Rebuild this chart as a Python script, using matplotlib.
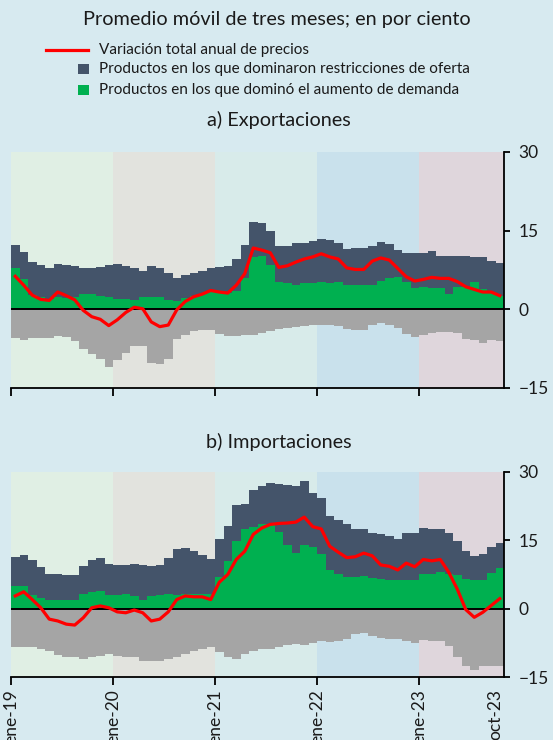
import numpy as np
import matplotlib.pyplot as plt
from matplotlib.lines import Line2D
from matplotlib.patches import Rectangle

plt.rcParams['font.family'] = ['Lato', 'DejaVu Sans']

# meses ene-19 ... oct-23 (58 observaciones)
meses_abr = ['ene', 'feb', 'mar', 'abr', 'may', 'jun', 'jul', 'ago', 'sep', 'oct', 'nov', 'dic']
meses = [m + '-' + str(a) for a in range(19, 24) for m in meses_abr][:58]

tick_pos = [0, 12, 24, 36, 48, 57]
tick_lab = ['ene-19', 'ene-20', 'ene-21', 'ene-22', 'ene-23', 'oct-23']

# a) Exportaciones
exp_demanda = [7.8, 5.8, 2.7, 2.3, 2.0, 2.3, 2.2, 2.3, 2.9, 2.9, 2.6, 2.3, 2.0, 1.9, 1.8, 2.3, 2.3, 2.3, 1.7, 1.5,
               2.1, 2.5, 2.9, 3.5, 3.1, 3.1, 3.5, 5.9, 9.9, 10.1, 8.4, 5.3, 5.1, 4.6, 5.0, 5.0, 5.3, 5.1, 5.2,
               4.6, 4.6, 4.6, 4.6, 5.4, 5.9, 6.2, 5.3, 4.0, 4.3, 4.1, 4.0, 2.9, 4.3, 4.3, 5.3, 3.9, 3.4, 2.6]
exp_oferta = [4.4, 5.2, 6.3, 6.1, 5.9, 6.4, 6.2, 5.9, 5.0, 5.0, 5.5, 6.1, 6.7, 6.4, 6.0, 5.1, 6.0, 5.5, 5.3, 4.5,
              4.5, 4.4, 4.4, 4.3, 5.0, 5.1, 6.1, 6.3, 6.8, 6.3, 6.6, 6.7, 6.9, 8.1, 7.7, 8.0, 8.1, 8.1, 7.5,
              6.9, 7.1, 7.1, 7.5, 7.4, 6.5, 5.2, 5.5, 6.8, 6.5, 7.0, 6.2, 7.3, 5.9, 5.9, 4.6, 6.0, 5.9, 6.3]
exp_negativo = [-5.5, -5.8, -5.5, -5.4, -5.4, -5.0, -5.3, -6.1, -7.5, -8.5, -9.4, -11.0, -9.7, -8.3, -6.9, -6.9,
                -10.2, -10.5, -9.5, -5.7, -4.8, -4.2, -4.0, -4.0, -4.7, -5.0, -5.0, -4.9, -4.8, -4.5, -4.2,
                -3.8, -3.5, -3.3, -3.1, -3.0, -3.0, -3.0, -3.1, -3.7, -4.0, -4.0, -3.0, -2.6, -3.0, -3.6,
                -4.7, -5.2, -4.8, -4.5, -4.3, -4.3, -4.6, -5.6, -5.9, -6.4, -5.9, -6.1]
exp_total = [6.3, 4.6, 2.7, 1.9, 1.7, 3.3, 2.6, 1.8, -0.2, -1.4, -1.9, -3.1, -2.0, -0.6, 0.4, 0.1, -2.4, -3.3,
             -3.0, -0.1, 1.5, 2.4, 2.9, 3.6, 3.3, 3.1, 4.6, 6.8, 11.7, 11.3, 10.8, 8.0, 8.3, 9.0, 9.6, 10.0,
             10.6, 10.0, 9.6, 7.9, 7.6, 7.6, 9.2, 9.8, 9.4, 7.8, 6.2, 5.4, 5.7, 6.1, 5.9, 5.9, 5.3, 4.3, 3.8,
             3.3, 3.3, 2.6]

# b) Importaciones
imp_demanda = [5.0, 5.0, 3.1, 2.4, 1.8, 1.8, 1.8, 1.8, 3.3, 3.6, 3.9, 3.0, 3.0, 3.2, 2.8, 1.9, 2.8, 3.1, 3.3, 3.0,
               3.2, 3.3, 3.3, 3.3, 7.0, 10.4, 14.8, 17.4, 18.0, 18.6, 18.6, 16.8, 14.0, 12.2, 14.0, 13.5, 12.1,
               8.4, 7.7, 7.0, 7.0, 7.2, 6.7, 6.5, 6.4, 6.4, 6.4, 6.4, 7.7, 7.7, 8.1, 7.6, 7.3, 6.6, 6.3, 6.3,
               7.8, 8.9]
imp_oferta = [6.4, 6.8, 7.5, 6.8, 5.9, 5.9, 5.7, 5.6, 6.0, 7.0, 7.2, 6.9, 6.6, 6.4, 7.0, 7.6, 6.5, 6.4, 7.8, 10.0,
              10.1, 9.4, 8.5, 7.5, 8.2, 7.7, 7.9, 5.6, 8.0, 8.4, 9.0, 10.5, 13.2, 14.8, 14.0, 11.9, 12.1, 12.0,
              11.7, 11.5, 10.5, 10.2, 10.0, 9.8, 9.6, 8.8, 10.3, 10.2, 10.1, 9.8, 9.3, 9.1, 7.6, 6.1, 5.2, 5.6,
              5.7, 5.6]
imp_negativo = [-8.4, -8.4, -8.5, -8.8, -9.3, -10.1, -10.7, -10.7, -11.1, -10.7, -10.4, -10.0, -10.3, -10.6,
                -10.7, -11.5, -11.5, -11.5, -11.0, -10.7, -10.0, -9.3, -8.9, -8.5, -9.6, -10.7, -11.1, -10.0,
                -9.3, -8.9, -8.9, -8.5, -8.0, -7.8, -8.0, -7.6, -7.1, -7.3, -7.0, -6.6, -5.6, -5.3, -6.0, -6.4,
                -6.6, -6.6, -7.0, -7.6, -6.9, -7.1, -7.0, -8.3, -10.5, -12.6, -13.5, -12.5, -12.5, -12.5]
imp_total = [2.8, 3.7, 2.0, 0.2, -2.3, -2.7, -3.4, -3.6, -2.0, 0.2, 0.6, 0.2, -0.7, -0.9, -0.3, -0.9, -2.7, -2.3,
             -0.7, 2.0, 2.8, 2.6, 2.6, 2.0, 5.8, 7.5, 10.8, 12.6, 16.3, 17.7, 18.5, 18.7, 18.8, 19.0, 20.1, 18.0,
             17.5, 13.7, 12.4, 11.2, 11.4, 12.2, 11.6, 9.6, 9.3, 8.5, 10.0, 9.2, 10.8, 10.5, 10.8, 8.0, 4.3, -0.2,
             -1.9, -0.8, 0.7, 2.2]

# colores
FONDO = '#D7EAF0'
BANDAS = ['#E0EFE4', '#E2E3DE', '#D8EBEA', '#C9E1EC', '#DFD6DC']
VERDE = '#00B050'
OSCURO = '#44546A'
GRIS = '#A5A5A5'
ROJO = '#FF0000'
TEXTO = '#1A1A1A'

W, H = 553, 740
fig = plt.figure(figsize=(W / 100, H / 100), dpi=100, facecolor=FONDO)


def panel(ax, demanda, oferta, negativo, total, etiquetas):
    x = np.arange(len(demanda))
    n = len(demanda)
    for k, c in enumerate(BANDAS):
        ax.axvspan(12 * k, min(12 * (k + 1), n), color=c, lw=0, zorder=0)
    ax.bar(x, demanda, width=1.0, align='edge', color=VERDE, lw=0, zorder=2)
    ax.bar(x, oferta, bottom=demanda, width=1.0, align='edge', color=OSCURO, lw=0, zorder=2)
    ax.bar(x, negativo, width=1.0, align='edge', color=GRIS, lw=0, zorder=2)
    ax.axhline(0, color='black', lw=1.4, zorder=3)
    ax.plot(x + 0.5, total, color=ROJO, lw=2.3, zorder=4, solid_joinstyle='round')

    ax.set_xlim(0, n)
    ax.set_ylim(-15, 30)
    ax.patch.set_alpha(0)
    for s in ['left', 'top']:
        ax.spines[s].set_visible(False)
    ax.spines['right'].set_linewidth(1.3)
    ax.spines['bottom'].set_linewidth(1.3)
    ax.yaxis.tick_right()
    ax.set_yticks([-15, 0, 15, 30])
    ax.tick_params(axis='y', direction='out', length=4.5, width=1.3, labelsize=12.5,
                   labelcolor=TEXTO, pad=6)
    ax.set_xticks(tick_pos)
    if etiquetas:
        ax.set_xticklabels(tick_lab, rotation=90, fontsize=12.5, color=TEXTO)
    else:
        ax.set_xticklabels([])
    ax.tick_params(axis='x', direction='out', length=6, width=1.3, pad=3)
    ax.xaxis.get_major_ticks()[-1].tick1line.set_visible(False)


ax_a = fig.add_axes([11 / W, 1 - 388 / H, 493 / W, 236 / H])
panel(ax_a, exp_demanda, exp_oferta, exp_negativo, exp_total, False)
ax_b = fig.add_axes([11 / W, 1 - 677 / H, 493 / W, 205 / H])
panel(ax_b, imp_demanda, imp_oferta, imp_negativo, imp_total, True)

# titulos
fig.text(277 / W, 1 - 20 / H, 'Promedio móvil de tres meses; en por ciento', ha='center', va='center',
         fontsize=14.3, color=TEXTO)
fig.text(279 / W, 1 - 120 / H, 'a) Exportaciones', ha='center', va='center', fontsize=14.3, color=TEXTO)
fig.text(279 / W, 1 - 442 / H, 'b) Importaciones', ha='center', va='center', fontsize=14.3, color=TEXTO)

# leyenda
fig.add_artist(Line2D([46 / W, 88 / W], [1 - 50 / H, 1 - 50 / H], color=ROJO, lw=2.3))
fig.add_artist(Rectangle((78 / W, 1 - 74 / H), 11 / W, 10 / H, color=OSCURO, lw=0))
fig.add_artist(Rectangle((78 / W, 1 - 95 / H), 11 / W, 10 / H, color=VERDE, lw=0))
leyenda = ['Variación total anual de precios',
           'Productos en los que dominaron restricciones de oferta',
           'Productos en los que dominó el aumento de demanda']
for texto, y in zip(leyenda, [50, 69, 90]):
    fig.text(99 / W, 1 - y / H, texto, ha='left', va='center', fontsize=11, color=TEXTO)

fig.savefig('out.png', dpi=100, facecolor=FONDO)
